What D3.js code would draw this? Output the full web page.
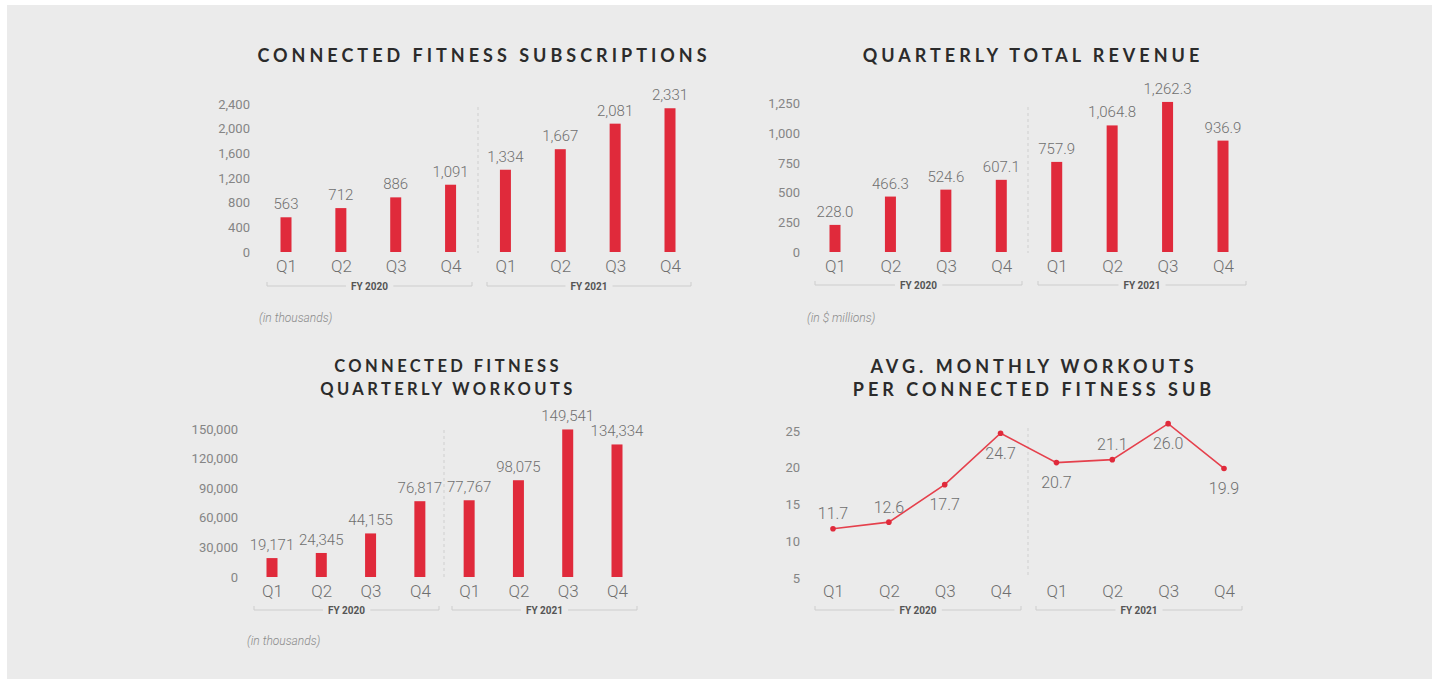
<!DOCTYPE html>
<html>
<head>
<meta charset="utf-8">
<script src="https://cdn.jsdelivr.net/npm/d3@7"></script>
<style>
  body { margin: 0; background: #fff; }
  svg { display: block; }
  .title { font-family: Lato, sans-serif; font-weight: 700; font-size: 18px; letter-spacing: 4px; fill: #2b2b2b; }
  .tick-label { font-family: Roboto, sans-serif; font-weight: 400; font-size: 13px; fill: #858585; }
  .q-label { font-family: Roboto, sans-serif; font-weight: 300; font-size: 17px; fill: #6f6f6f; }
  .value-label { font-family: Roboto, sans-serif; font-weight: 300; font-size: 15px; fill: #6f6f6f; }
  .fy-label { font-family: Roboto, sans-serif; font-weight: 700; font-size: 10px; fill: #555; }
  .note { font-family: Roboto, sans-serif; font-style: italic; font-weight: 300; font-size: 12px; fill: #8a8a8a; }
</style>
</head>
<body>
<div id="chart"></div>
<script>
'use strict';

// ---- data ----
const quarters = ['Q1', 'Q2', 'Q3', 'Q4', 'Q1', 'Q2', 'Q3', 'Q4'];
const fiscalYears = ['FY 2020', 'FY 2021'];

const subscriptions = [563, 712, 886, 1091, 1334, 1667, 2081, 2331];
const subscriptionTicks = [0, 400, 800, 1200, 1600, 2000, 2400];

const revenue = [228.0, 466.3, 524.6, 607.1, 757.9, 1064.8, 1262.3, 936.9];
const revenueTicks = [0, 250, 500, 750, 1000, 1250];

const workouts = [19171, 24345, 44155, 76817, 77767, 98075, 149541, 134334];
const workoutTicks = [0, 30000, 60000, 90000, 120000, 150000];

const monthlyWorkouts = [11.7, 12.6, 17.7, 24.7, 20.7, 21.1, 26.0, 19.9];
const monthlyTicks = [5, 10, 15, 20, 25];
const monthlyLabelAbove = [true, true, false, false, false, true, false, false];

const RED = '#e02a3b';
const LINE_RED = '#e5404c';

const W = 1437, H = 679;

const svg = d3.select('#chart').append('svg')
    .attr('width', W)
    .attr('height', H);

svg.append('rect')
    .attr('x', 7).attr('y', 5)
    .attr('width', 1425).attr('height', 674)
    .attr('fill', '#ebebeb');

const keys = quarters.map((q, i) => `${fiscalYears[Math.floor(i / 4)]} ${q}`);

// shared frame: title, y labels, x labels, divider, FY brackets, note
function drawFrame(p) {
    const g = svg.append('g');

    p.title.forEach((line, i) => {
        const t = g.append('text')
            .attr('class', 'title')
            .attr('x', p.titleX)
            .attr('y', p.titleY + i * 23)
            .attr('text-anchor', 'middle')
            .text(line);
        if (p.titleSize) {
            t.style('font-size', p.titleSize + 'px').style('letter-spacing', p.titleSpacing + 'px');
        }
    });

    // y tick labels only, no axis line
    const yAxis = d3.axisLeft(p.y)
        .tickValues(p.ticks)
        .tickSize(0)
        .tickPadding(0)
        .tickFormat(d3.format(','));
    const ya = g.append('g')
        .attr('transform', `translate(${p.yLabelX},0)`)
        .call(yAxis);
    ya.select('.domain').remove();
    ya.selectAll('text')
        .attr('class', 'tick-label')
        .attr('fill', null)
        .attr('font-size', null)
        .attr('font-family', null);

    // quarter labels
    const xa = g.append('g')
        .attr('transform', `translate(0,${p.qLabelY})`)
        .call(d3.axisBottom(p.x).tickSize(0).tickPadding(0).tickFormat((d, i) => quarters[i]));
    xa.select('.domain').remove();
    xa.selectAll('text')
        .attr('class', 'q-label')
        .attr('fill', null)
        .attr('font-size', null)
        .attr('font-family', null)
        .attr('dy', '0.35em');

    // dashed divider between fiscal years
    g.append('line')
        .attr('x1', p.dividerX).attr('x2', p.dividerX)
        .attr('y1', p.dividerTop).attr('y2', p.dividerBottom)
        .attr('stroke', '#cfcfcf')
        .attr('stroke-dasharray', '3,3');

    // FY brackets
    p.brackets.forEach((b, i) => {
        const bg = g.append('g');
        const label = bg.append('text')
            .attr('class', 'fy-label')
            .attr('x', (b[0] + b[1]) / 2)
            .attr('y', p.bracketY)
            .attr('dy', '0.35em')
            .attr('text-anchor', 'middle')
            .text(fiscalYears[i]);
        const bb = label.node().getBBox();
        const gap = 5;
        const segs = [[b[0], bb.x - gap], [bb.x + bb.width + gap, b[1]]];
        segs.forEach(s => {
            bg.append('line')
                .attr('x1', s[0]).attr('x2', s[1])
                .attr('y1', p.bracketY).attr('y2', p.bracketY)
                .attr('stroke', '#cdcdcd');
        });
        [b[0], b[1]].forEach(x => {
            bg.append('line')
                .attr('x1', x).attr('x2', x)
                .attr('y1', p.bracketY).attr('y2', p.bracketY - 4)
                .attr('stroke', '#cdcdcd');
        });
    });

    if (p.note) {
        g.append('text')
            .attr('class', 'note')
            .attr('x', p.noteX)
            .attr('y', p.noteY)
            .attr('dy', '0.35em')
            .text(p.note);
    }
    return g;
}

function drawBars(p, values, fmt) {
    const g = drawFrame(p);
    const barW = 11;

    g.append('g').selectAll('rect')
        .data(values)
        .join('rect')
        .attr('x', (d, i) => p.x(keys[i]) - barW / 2)
        .attr('y', d => p.y(d))
        .attr('width', barW)
        .attr('height', d => p.y(p.ticks[0]) - p.y(d))
        .attr('fill', RED);

    g.append('g').selectAll('text')
        .data(values)
        .join('text')
        .attr('class', 'value-label')
        .attr('x', (d, i) => p.x(keys[i]))
        .attr('y', d => p.y(d) - 8)
        .attr('text-anchor', 'middle')
        .text(d => fmt(d));
}

function drawLine(p, values) {
    const g = drawFrame(p);

    const line = d3.line()
        .x((d, i) => p.x(keys[i]))
        .y(d => p.y(d));

    g.append('path')
        .datum(values)
        .attr('d', line)
        .attr('fill', 'none')
        .attr('stroke', LINE_RED)
        .attr('stroke-width', 1.6);

    g.append('g').selectAll('circle')
        .data(values)
        .join('circle')
        .attr('cx', (d, i) => p.x(keys[i]))
        .attr('cy', d => p.y(d))
        .attr('r', 2.8)
        .attr('fill', RED);

    g.append('g').selectAll('text')
        .data(values)
        .join('text')
        .attr('class', 'value-label')
        .style('font-size', '16px')
        .attr('x', (d, i) => p.x(keys[i]))
        .attr('y', (d, i) => p.y(d) + (monthlyLabelAbove[i] ? -15 : 20))
        .attr('dy', '0.35em')
        .attr('text-anchor', 'middle')
        .text(d => d3.format('.1f')(d));
}

// ---- panels ----
drawBars({
    title: ['CONNECTED FITNESS SUBSCRIPTIONS'],
    titleX: 484, titleY: 62,
    x: d3.scalePoint().domain(keys).range([286, 670]),
    y: d3.scaleLinear().domain([0, 2400]).range([252, 104]),
    ticks: subscriptionTicks,
    yLabelX: 250,
    qLabelY: 266,
    dividerX: 478, dividerTop: 107, dividerBottom: 253,
    brackets: [[267, 472], [487, 691]], bracketY: 286,
    note: '(in thousands)', noteX: 259, noteY: 318
}, subscriptions, d3.format(','));

drawBars({
    title: ['QUARTERLY TOTAL REVENUE'],
    titleX: 1033, titleY: 62,
    x: d3.scalePoint().domain(keys).range([835, 1223]),
    y: d3.scaleLinear().domain([0, 1250]).range([252, 103.4]),
    ticks: revenueTicks,
    yLabelX: 800,
    qLabelY: 266,
    dividerX: 1028, dividerTop: 107, dividerBottom: 253,
    brackets: [[815, 1022], [1038, 1246]], bracketY: 285,
    note: '(in $ millions)', noteX: 807, noteY: 318
}, revenue, d3.format(',.1f'));

drawBars({
    title: ['CONNECTED FITNESS', 'QUARTERLY WORKOUTS'],
    titleX: 448, titleY: 372, titleSize: 16.5, titleSpacing: 3.4,
    x: d3.scalePoint().domain(keys).range([272, 617]),
    y: d3.scaleLinear().domain([0, 150000]).range([577, 429]),
    ticks: workoutTicks,
    yLabelX: 238,
    qLabelY: 591,
    dividerX: 444, dividerTop: 430, dividerBottom: 578,
    brackets: [[254, 439], [452, 637]], bracketY: 610,
    note: '(in thousands)', noteX: 247, noteY: 641
}, workouts, d3.format(','));

drawLine({
    title: ['AVG. MONTHLY WORKOUTS', 'PER CONNECTED FITNESS SUB'],
    titleX: 1034, titleY: 373,
    x: d3.scalePoint().domain(keys).range([833, 1224]),
    y: d3.scaleLinear().domain([5, 25]).range([578, 431]),
    ticks: monthlyTicks,
    yLabelX: 800,
    qLabelY: 591,
    dividerX: 1028, dividerTop: 428, dividerBottom: 578,
    brackets: [[815, 1021], [1036, 1242]], bracketY: 610
}, monthlyWorkouts);
</script>
</body>
</html>
